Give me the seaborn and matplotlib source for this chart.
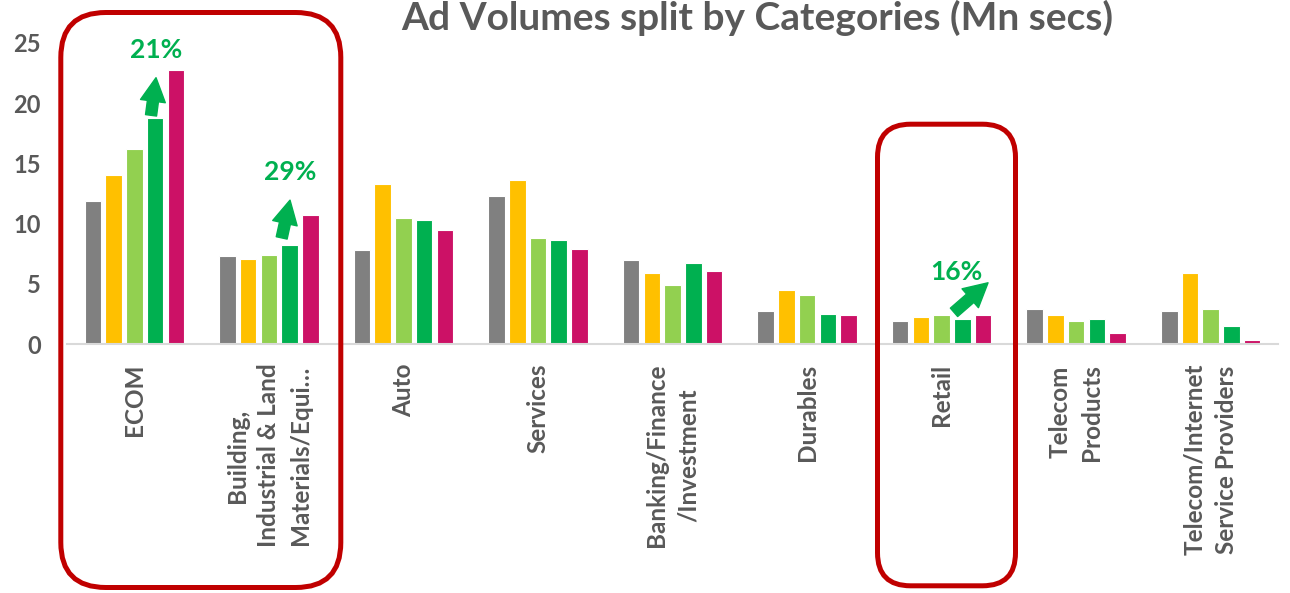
import matplotlib
matplotlib.use("Agg")
import matplotlib.pyplot as plt
import seaborn as sns
import pandas as pd
from matplotlib.patches import FancyBboxPatch

categories = ["ECOM", "Building,\nIndustrial & Land\nMaterials/Equi…", "Auto", "Services",
              "Banking/Finance\n/Investment", "Durables", "Retail", "Telecom\nProducts",
              "Telecom/Internet\nService Providers"]
series_names = ["Period 1", "Period 2", "Period 3", "Period 4", "Period 5"]
period1 = [11.9, 7.3, 7.8, 12.3, 6.95, 2.8, 1.9, 2.9, 2.8]
period2 = [14.0, 7.1, 13.25, 13.6, 5.9, 4.5, 2.3, 2.4, 5.9]
period3 = [16.2, 7.4, 10.5, 8.8, 4.9, 4.05, 2.45, 1.9, 2.9]
period4 = [18.75, 8.25, 10.3, 8.65, 6.7, 2.55, 2.1, 2.1, 1.55]
period5 = [22.7, 10.7, 9.5, 7.9, 6.05, 2.4, 2.45, 0.9, 0.35]
colors = ["#808080", "#FFC000", "#92D050", "#00B050", "#CC1166"]
yticks = [0, 5, 10, 15, 20, 25]
growth_labels = ["21%", "29%", "16%"]

rows = []
for name, vals in zip(series_names, [period1, period2, period3, period4, period5]):
    for c, v in zip(categories, vals):
        rows.append({"category": c, "series": name, "value": v})
df = pd.DataFrame(rows)

sns.set_style("white")
plt.rcParams["font.family"] = ["Lato", "DejaVu Sans"]
GRAY = "#595959"

fig = plt.figure(figsize=(12.9, 5.93), dpi=100)
ax = fig.add_axes([0.052, 0.4194, 0.9387, 0.5086])

sns.barplot(data=df, x="category", y="value", hue="series", order=categories,
            hue_order=series_names, palette=colors, width=0.77, gap=0.2,
            saturation=1, edgecolor="white", linewidth=0.8, legend=False, ax=ax)

ax.set_xlim(-0.5, 8.5)
ax.set_ylim(0, 25)
ax.set_yticks(yticks)
ax.set_yticklabels([str(t) for t in yticks], fontsize=17, fontweight="bold", color=GRAY)
ax.set_xticks(range(len(categories)))
ax.set_xticklabels(categories, rotation=90, ha="center", va="top", multialignment="center",
                   linespacing=1.45, fontsize=17.5, fontweight="bold", color=GRAY)
ax.tick_params(axis="x", length=0, pad=14)
ax.tick_params(axis="y", length=0, pad=19)
ax.set_xlabel("")
ax.set_ylabel("")
for s in ["top", "right", "left"]:
    ax.spines[s].set_visible(False)
ax.spines["bottom"].set_color("#D9D9D9")
ax.spines["bottom"].set_linewidth(1.5)
ax.grid(False)

# growth arrows and labels
green = "#00B050"
arrow_style = "simple,head_length=0.85,head_width=0.9,tail_width=0.4"
arrows = [((0.124, 18.98), (0.161, 22.1)), ((1.095, 8.82), (1.157, 11.95)),
          ((6.092, 2.65), (6.345, 5.1))]
label_pos = [(0.161, 24.4), (1.157, 14.25), (6.11, 6.0)]
for (tail, head), lab, pos in zip(arrows, growth_labels, label_pos):
    ax.annotate("", xy=head, xytext=tail,
                arrowprops=dict(arrowstyle=arrow_style, color=green, shrinkA=0, shrinkB=0,
                                mutation_scale=20))
    ax.text(pos[0], pos[1], lab, color=green, fontsize=19, fontweight="bold",
            ha="center", va="center")

# title
fig.text(757 / 1290, (593 - 30) / 593, "Ad Volumes split by Categories (Mn secs)", ha="center",
         va="baseline", fontsize=28, fontweight="bold", color=GRAY)

# red rounded highlight boxes (inches)
for x0, y0, w, h, r in [(0.608, 0.055, 2.80, 5.75, 0.45), (8.775, 0.072, 1.38, 4.616, 0.33)]:
    fig.add_artist(FancyBboxPatch((x0, y0), w, h, boxstyle=f"round,pad=0,rounding_size={r}",
                                  transform=fig.dpi_scale_trans, fill=False,
                                  ec="#C00000", lw=3.6, clip_on=False))

fig.savefig("out.png", dpi=100)
